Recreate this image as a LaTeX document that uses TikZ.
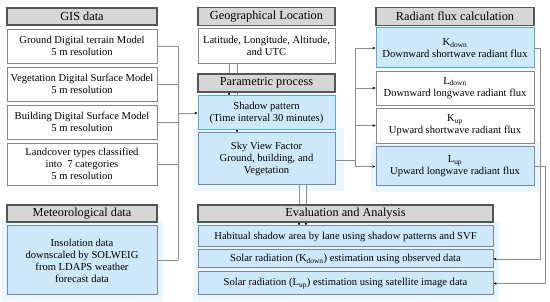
\documentclass[tikz,border=0pt]{standalone}
\usepackage{fontspec}
\setmainfont{Liberation Serif}
\usetikzlibrary{arrows.meta}
\definecolor{hdrfill}{RGB}{214,214,214}
\definecolor{hdrline}{RGB}{85,85,85}
\definecolor{boxline}{RGB}{135,135,135}
\definecolor{bluefill}{RGB}{205,232,250}
\definecolor{tealline}{RGB}{70,180,200}
\definecolor{slateline}{RGB}{115,135,185}
\definecolor{glowc}{RGB}{234,247,253}
\definecolor{conn}{RGB}{140,140,140}
\pgfdeclarelayer{background}
\pgfsetlayers{background,main}
\begin{document}
\begin{tikzpicture}[x=1pt,y=-1pt,
  base/.style={rectangle,inner sep=1pt,align=center,font=\fontsize{10.6}{12}\selectfont},
  hdr/.style={base,draw=hdrline,fill=hdrfill,line width=1.1pt,font=\fontsize{12.3}{13}\selectfont},
  wbox/.style={base,draw=boxline,fill=white,line width=0.7pt},
  tbox/.style={base,draw=tealline,fill=bluefill,line width=1pt},
  sbox/.style={base,draw=slateline,fill=bluefill,line width=1pt},
  glow/.style={fill=glowc,draw=none},
  wire/.style={draw=conn,line width=0.6pt},
  arr/.style={wire,-{Stealth[length=3pt,width=2.6pt,color=black]}}
]
\useasboundingbox (0,0) rectangle (550,302);
% left column
\node[hdr,minimum width=150pt,minimum height=17pt] (gis) at (82,16.5) {GIS data};
\node[wbox,minimum width=150pt,minimum height=34pt] (ground) at (82,46) {Ground Digital terrain Model\\5 m resolution};
\node[wbox,minimum width=150pt,minimum height=34pt] (veg) at (82,84) {Vegetation Digital Surface Model\\5 m resolution};
\node[wbox,minimum width=150pt,minimum height=34pt] (bld) at (82,122) {Building Digital Surface Model\\5 m resolution};
\node[wbox,minimum width=150pt,minimum height=42pt] (land) at (82,164) {Landcover types classified\\into\ \ 7 categories\\5 m resolution};
\node[hdr,minimum width=150pt,minimum height=17pt] (met) at (82,213.5) {Meteorological data};
\node[sbox,minimum width=150pt,minimum height=69pt] (ins) at (82,260.5) {Insolation data\\downscaled by SOLWEIG\\from LDAPS weather\\forecast data};
% middle column
\node[hdr,minimum width=137pt,minimum height=18pt] (geo) at (266.5,16.5) {Geographical Location};
\node[wbox,minimum width=137pt,minimum height=35pt] (lat) at (266.5,45.5) {Latitude, Longitude, Altitude,\\and UTC};
\node[hdr,minimum width=137pt,minimum height=18pt] (param) at (266.5,83) {Parametric process};
\node[tbox,minimum width=137pt,minimum height=34pt] (shadow) at (266.5,113) {Shadow pattern\\(Time interval 30 minutes)};
\node[sbox,minimum width=137pt,minimum height=52pt] (svf) at (266.5,159) {Sky View Factor\\Ground, building, and\\Vegetation};
% evaluation
\node[hdr,minimum width=295pt,minimum height=17pt] (eval) at (345.5,213.5) {Evaluation and Analysis};
\node[sbox,minimum width=295pt,minimum height=21pt] (hab) at (345.5,236.5) {Habitual shadow area by lane using shadow patterns and SVF};
\node[sbox,minimum width=295pt,minimum height=18pt] (kest) at (345.5,259) {Solar radiation (K\textsubscript{down}) estimation using observed data};
\node[sbox,minimum width=295pt,minimum height=23pt] (lest) at (345.5,283.5) {Solar radiation (L\textsubscript{up}) estimation using satellite image data};
% right column
\node[hdr,minimum width=158pt,minimum height=18pt] (rad) at (455,16.5) {Radiant flux calculation};
\node[tbox,minimum width=158pt,minimum height=40pt] (kdown) at (455,48) {K\textsubscript{down}\\Downward shortwave radiant flux};
\node[wbox,minimum width=158pt,minimum height=34pt] (ldown) at (455,88) {L\textsubscript{down}\\Downward longwave radiant flux};
\node[wbox,minimum width=158pt,minimum height=35pt] (kup) at (455,125.5) {K\textsubscript{up}\\Upward shortwave radiant flux};
\node[sbox,minimum width=158pt,minimum height=39pt] (lup) at (455,166.5) {L\textsubscript{up}\\Upward longwave radiant flux};
% coordinates
\coordinate (lbus) at (178,113);
\coordinate (rbus) at (355,160);
\begin{pgfonlayer}{background}
  % glows
  \fill[glow] ([shift={(-5,-4)}]svf.north west) rectangle ([shift={(8,6)}]svf.south east);
  \fill[glow] ([shift={(-5,-4)}]ins.north west) rectangle ([shift={(5,6)}]ins.south east);
  \fill[glow] ([shift={(-5,-4)}]lup.north west) rectangle ([shift={(5,6)}]lup.south east);
  \fill[glow] ([shift={(-5,-3)}]hab.north west) rectangle ([shift={(5,6)}]lest.south east);
  % left bus
  \draw[wire] (ground.east) -- (ground.east -| lbus);
  \draw[wire] (veg.east) -- (veg.east -| lbus);
  \draw[wire] (bld.east) -- (bld.east -| lbus);
  \draw[wire] (land.east) -- (land.east -| lbus);
  \draw[wire] (ins.east) -- (ins.east -| lbus);
  \draw[wire] (ground.east -| lbus) -- (ins.east -| lbus);
  \draw[arr] (lbus) -- (shadow.west);
  % geo to parametric
  \draw[arr] (lat.south -| 229,0) -- (shadow.north -| 229,0);
  \draw[arr] (lat.south -| 237,0) -- (svf.north -| 237,0);
  % svf to evaluation
  \draw[arr] (svf.south -| 299,0) -- (hab.north -| 299,0);
  \draw[arr] (svf.south -| 306,0) -- (hab.north -| 306,0);
  % right bus
  \draw[wire] (svf.east |- rbus) -- (rbus);
  \draw[wire] (kdown.west -| rbus) -- (lup.west -| rbus);
  \draw[arr] (kdown.west -| rbus) -- (kdown.west);
  \draw[arr] (ldown.west -| rbus) -- (ldown.west);
  \draw[arr] (kup.west -| rbus) -- (kup.west);
  \draw[arr] (lup.west -| rbus) -- (lup.west);
  % feedback to evaluation
  \draw[arr] (kdown.east) -- (kdown.east -| 540,0) -- (kest.east -| 540,0) -- (kest.east);
  \draw[arr] (lup.east) -- (lup.east -| 545,0) -- (lest.east -| 545,0) -- (lest.east);
\end{pgfonlayer}
\end{tikzpicture}
\end{document}
